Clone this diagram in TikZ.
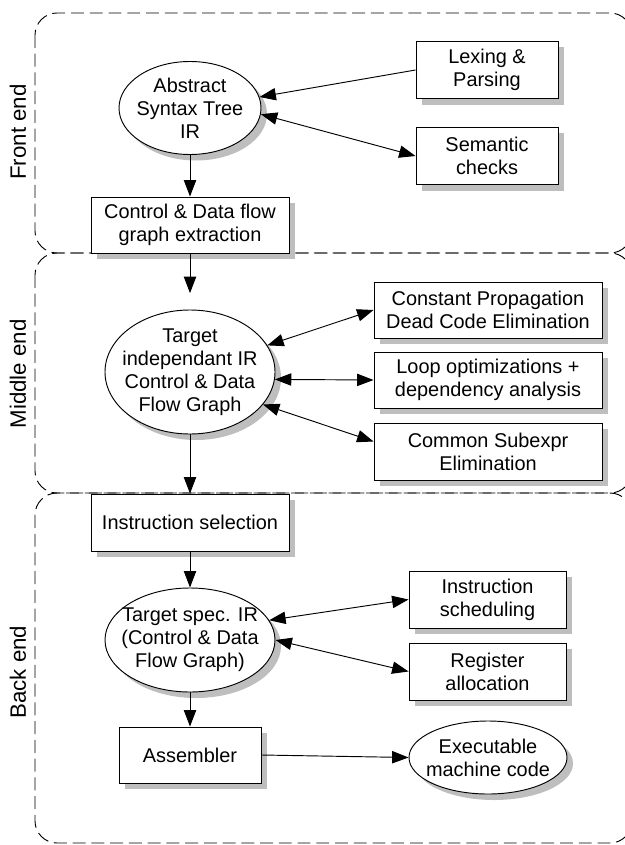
\documentclass[tikz,border=0pt]{standalone}
\usepackage{fontspec}
\setmainfont{Liberation Sans}
\usetikzlibrary{shapes.geometric,arrows.meta}
\definecolor{shadowgray}{RGB}{190,190,190}
\newcommand{\nf}{\fontsize{17}{19.6}\selectfont}
\newcommand{\pf}{\fontsize{19}{22}\selectfont}

\begin{document}
\begin{tikzpicture}[x=0.03cm,y=-0.03cm,
  every node/.style={font=\nf,align=center},
  box/.style 2 args={draw,fill=white,line width=0.8pt,inner sep=0pt,
    minimum width=#1,minimum height=#2},
  stage/.style 2 args={ellipse,draw,fill=white,line width=0.8pt,inner sep=-30pt,
    minimum width=#1,minimum height=#2},
  boxshadow/.style 2 args={fill=shadowgray,draw=none,inner sep=0pt,
    minimum width=#1,minimum height=#2},
  stageshadow/.style 2 args={ellipse,fill=shadowgray,draw=none,inner sep=-30pt,
    minimum width=#1,minimum height=#2},
  phase/.style={rotate=90,font=\pf},
  arr/.style={-{Triangle[length=14pt,width=10.5pt]},line width=0.8pt},
  both/.style={{Triangle[length=14pt,width=10.5pt]}-{Triangle[length=14pt,width=10.5pt]},line width=0.8pt},
  region/.style={dash pattern=on 11pt off 5pt,line width=0.8pt,rounded corners=0.66cm}]
     \useasboundingbox (0,0) rectangle (625,845);
     % the three phases
     \draw[region] (35,13) rectangle (632,253);
     \draw[region] (35,253) rectangle (632,493);
     \draw[region] (35,493) rectangle (632,843);
     \node[phase] (fe) at (18,132) {Front end};
     \node[phase] (me) at (18,374) {Middle end};
     \node[phase] (be) at (18,672) {Back end};
     % shadows, 6 units right and down of each node
     \foreach \px/\py/\w/\h [count=\i] in {487/70/4.26/1.71,487/156/4.26/1.71,190/225/5.94/1.68,
       488/310/6.84/1.68,488/380/6.84/1.68,488/451.5/6.84/1.71,190/522.5/5.94/1.71,
       487.5/599.5/4.71/1.71,487.5/671.5/4.71/1.71,190/755/4.26/1.68}
      \node[boxshadow={\w cm}{\h cm}] (bs\i) at (\px+6,\py+6) {};
     \foreach \px/\py/\w/\h [count=\i] in {190/108/4.26/2.79,190/372/5.1/3.72,
       190/640/5.1/3.12,488/757.5/4.74/2.19}
      \node[stageshadow={\w cm}{\h cm}] (es\i) at (\px+6,\py+6) {};
     % front end
     \node[stage={4.26cm}{2.79cm}] (ast) at (190,108) {Abstract\\Syntax Tree\\IR};
     \node[box={4.26cm}{1.71cm}] (lex) at (487,70) {Lexing \&\\Parsing};
     \node[box={4.26cm}{1.71cm}] (sem) at (487,156) {Semantic\\checks};
     \node[box={5.94cm}{1.68cm}] (cdfg) at (190,225) {Control \& Data flow\\graph extraction};
     % middle end
     \node[stage={5.1cm}{3.72cm}] (tii) at (190,372) {Target\\independant IR\\Control \& Data\\Flow Graph};
     \node[box={6.84cm}{1.68cm}] (cp) at (488,310) {Constant Propagation\\Dead Code Elimination};
     \node[box={6.84cm}{1.68cm}] (loop) at (488,380) {Loop optimizations +\\dependency analysis};
     \node[box={6.84cm}{1.71cm}] (cse) at (488,451.5) {Common Subexpr\\Elimination};
     % back end
     \node[box={5.94cm}{1.71cm}] (isel) at (190,522.5) {Instruction selection};
     \node[stage={5.1cm}{3.12cm}] (tsi) at (190,640) {Target spec. IR\\(Control \& Data\\Flow Graph)};
     \node[box={4.71cm}{1.71cm}] (sched) at (487.5,599.5) {Instruction\\scheduling};
     \node[box={4.71cm}{1.71cm}] (reg) at (487.5,671.5) {Register\\allocation};
     \node[box={4.26cm}{1.68cm}] (asm) at (190,755) {Assembler};
     \node[stage={4.74cm}{2.19cm}] (exe) at (488,757.5) {Executable\\machine code};
     % connections
     \draw[arr] (lex.west) -- (ast.9);
     \draw[both] (ast.-5) -- (sem.west);
     \draw[arr] (ast) -- (cdfg);
     \draw[arr,shorten >=14pt] (cdfg) -- (tii);
     \draw[both] (tii.19) -- (cp.west);
     \draw[both] (tii.-5) -- (loop.west);
     \draw[both] (tii.-24) -- (cse.175);
     \draw[arr] (tii) -- (isel);
     \draw[arr] (isel) -- (tsi);
     \draw[both] (tsi.14) -- (sched.west);
     \draw[both] (tsi.east) -- (reg.west);
     \draw[arr] (tsi) -- (asm);
     \draw[arr] (asm.east) -- (exe.west);
    \end{tikzpicture}
\end{document}
